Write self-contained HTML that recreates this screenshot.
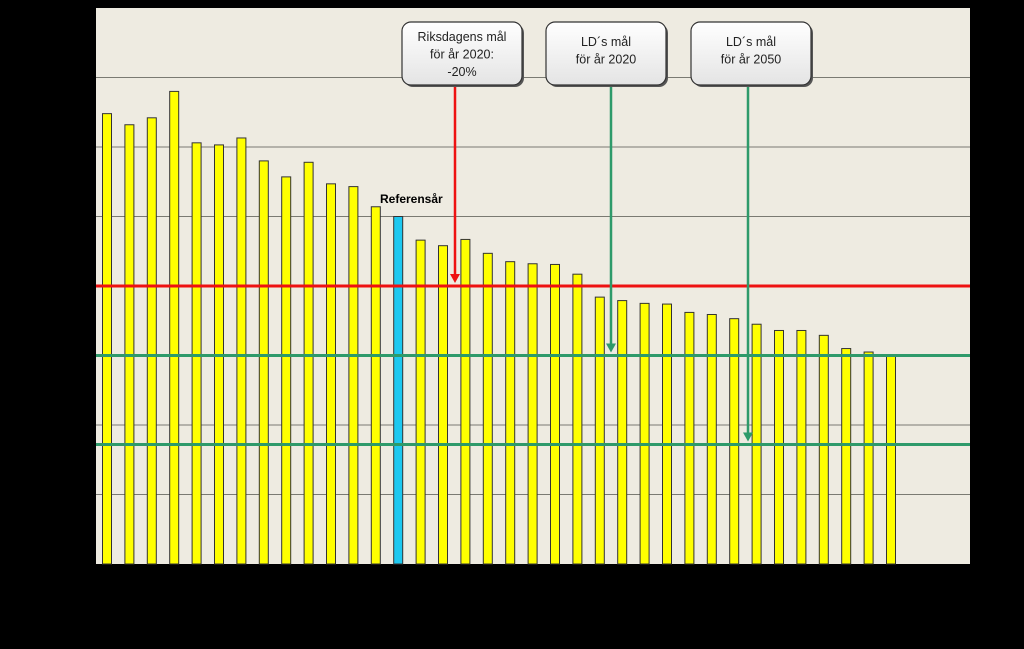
<!DOCTYPE html>
<html><head><meta charset="utf-8"><style>
body{margin:0;background:#000;width:1024px;height:644px;overflow:hidden}
svg text{font-family:"Liberation Sans",sans-serif}
</style></head><body>
<svg width="1024" height="644">
<defs><linearGradient id="bg" x1="0" y1="0" x2="0" y2="1"><stop offset="0" stop-color="#fff"/><stop offset="1" stop-color="#e4e4e4"/></linearGradient></defs>
<rect x="96" y="8" width="874" height="556" fill="#eeebe1"/>
<g id="grid"></g>
<g id="bars"></g>
<g id="lines"></g>
<text x="380" y="203" font-size="12" font-weight="bold" fill="#000">Referensår</text>
<g id="callouts"></g>
</svg>
<script>
const values=[6.48,6.32,6.42,6.80,6.06,6.03,6.13,5.80,5.57,5.78,5.47,5.43,5.14,5.00,4.66,4.58,4.67,4.47,4.35,4.32,4.31,4.17,3.84,3.79,3.75,3.74,3.62,3.59,3.53,3.45,3.36,3.36,3.29,3.10,3.05,2.99];
const refIndex=13;
const gridTicks=[1,2,3,4,5,6,7];
const targetRiks=4.0, targetLD2020=3.0, targetLD2050=1.72;
const NS='http://www.w3.org/2000/svg';
const y=v=>564-v*69.5;
const x=i=>107+i*22.4;
function mk(tag,attrs,parent){const e=document.createElementNS(NS,tag);for(const k in attrs)e.setAttribute(k,attrs[k]);parent.appendChild(e);return e;}
const grid=document.getElementById('grid');
gridTicks.forEach(t=>{const l=mk('line',{x1:96,x2:970,y1:y(t),y2:y(t),stroke:'#7a7a72','stroke-width':1},grid);

});
const bars=document.getElementById('bars');
values.forEach((v,i)=>{const r=mk('rect',{x:x(i)-4.5,y:y(v),width:9,height:564-y(v),fill:i===refIndex?'#1ec8f0':'#ffff00',stroke:'#333','stroke-width':1},bars);

});
const lines=document.getElementById('lines');
[[targetRiks,'#ee1111','target-line-riksdagen'],[targetLD2020,'#2e9a6a','target-line-ld-2020'],[targetLD2050,'#2e9a6a','target-line-ld-2050']].forEach(d=>{
const l=mk('line',{x1:96,x2:970,y1:y(d[0]),y2:y(d[0]),stroke:d[1],'stroke-width':3},lines);

});
const co=document.getElementById('callouts');
const boxes=[{x:402,w:120,lines:['Riksdagens mål','för år 2020:','-20%'],ax:455,tv:targetRiks,c:'#ee1111',n:'callout-riksdagen'},
{x:546,w:120,lines:['LD´s mål','för år 2020'],ax:611,tv:targetLD2020,c:'#2e9a6a',n:'callout-ld-2020'},
{x:691,w:120,lines:['LD´s mål','för år 2050'],ax:748,tv:targetLD2050,c:'#2e9a6a',n:'callout-ld-2050'}];
boxes.forEach(b=>{
const g=mk('g',{},co);


const ty=y(b.tv)-3;
mk('line',{x1:b.ax,x2:b.ax,y1:85,y2:ty-8,stroke:b.c,'stroke-width':2.5},g);
mk('polygon',{points:`${b.ax-5},${ty-9} ${b.ax+5},${ty-9} ${b.ax},${ty}`,fill:b.c},g);
mk('rect',{x:b.x+2,y:24,width:b.w,height:63,rx:9,fill:'#555'},g);
mk('rect',{x:b.x,y:22,width:b.w,height:63,rx:9,fill:'url(#bg)',stroke:'#333','stroke-width':1.2},g);
const n=b.lines.length;const sy=n===3?41:46;
b.lines.forEach((t,k)=>{const tx=mk('text',{x:b.x+b.w/2,y:sy+k*17.5,'font-size':12.5,'text-anchor':'middle',fill:'#222'},g);tx.textContent=t;});
});
</script>
</body></html>
